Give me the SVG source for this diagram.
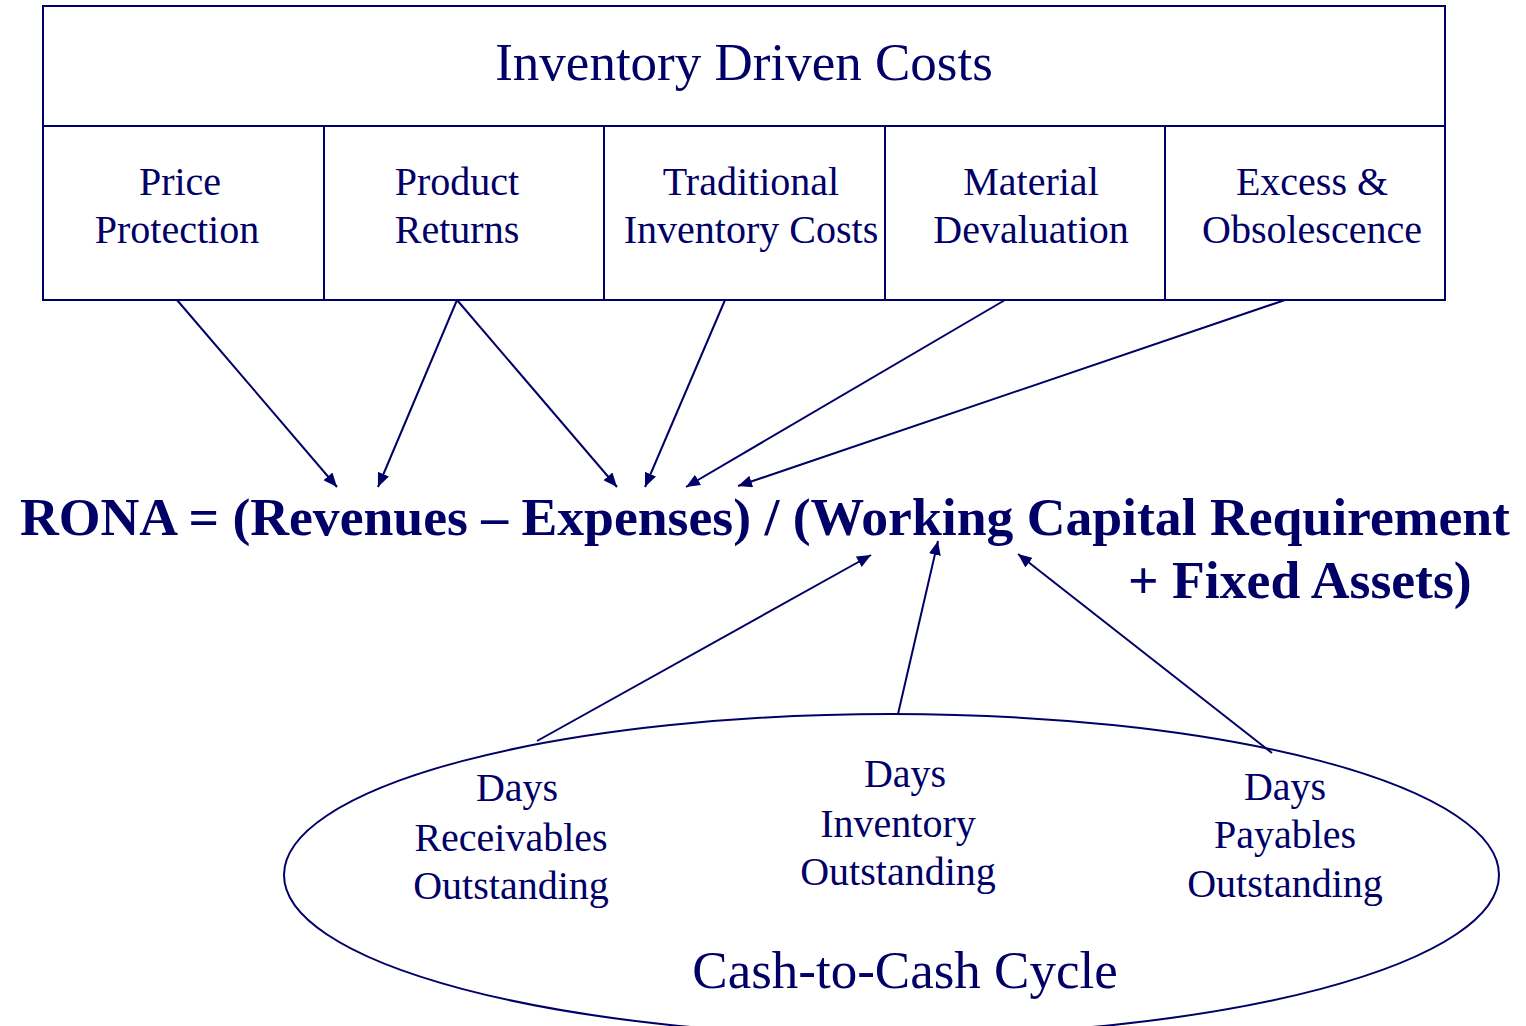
<svg xmlns="http://www.w3.org/2000/svg" width="1526" height="1026" viewBox="0 0 1526 1026">
<style>
.ln{stroke:#000066;stroke-width:2;fill:none}
.t{font-family:"Liberation Serif","Times New Roman",serif;fill:#000066;text-anchor:middle}
.c{font-size:40px}
.big{font-size:53px}
.b{font-family:"Liberation Serif","Times New Roman",serif;fill:#000066;font-weight:bold;font-size:53.7px}
.ar{stroke:#000066;stroke-width:2;fill:none;marker-end:url(#ah)}
</style>
<defs>
<marker id="ah" markerUnits="userSpaceOnUse" markerWidth="16" markerHeight="12" refX="14" refY="6" orient="auto">
<path d="M0,0 L14,6 L0,12 Z" fill="#000066"/>
</marker>
</defs>
<rect width="1526" height="1026" fill="#ffffff"/>
<g id="header">
<rect class="ln" x="43" y="6" width="1402" height="120"/>
<text class="t big" x="744" y="80">Inventory Driven Costs</text>
</g>
<g id="price-protection">
<rect class="ln" x="43" y="126" width="281" height="174"/>
<text class="t c" x="180" y="195">Price</text>
<text class="t c" x="177" y="243">Protection</text>
</g>
<g id="product-returns">
<rect class="ln" x="324" y="126" width="280" height="174"/>
<text class="t c" x="457" y="195">Product</text>
<text class="t c" x="457" y="243">Returns</text>
</g>
<g id="traditional">
<rect class="ln" x="604" y="126" width="281" height="174"/>
<text class="t c" x="751" y="195">Traditional</text>
<text class="t c" x="751" y="243">Inventory Costs</text>
</g>
<g id="material">
<rect class="ln" x="885" y="126" width="280" height="174"/>
<text class="t c" x="1031" y="195">Material</text>
<text class="t c" x="1031" y="243">Devaluation</text>
</g>
<g id="excess">
<rect class="ln" x="1165" y="126" width="280" height="174"/>
<text class="t c" x="1312" y="195">Excess &amp;</text>
<text class="t c" x="1312" y="243">Obsolescence</text>
</g>
<g id="rona">
<text class="b" x="20" y="535" textLength="1490" lengthAdjust="spacing">RONA = (Revenues – Expenses) / (Working Capital Requirement</text>
<text class="b" x="1128" y="598">+ Fixed Assets)</text>
</g>
<g id="cash-cycle">
<ellipse class="ln" cx="891.5" cy="875" rx="607.5" ry="161"/>
<text class="t c" x="517" y="801">Days</text>
<text class="t c" x="511" y="851">Receivables</text>
<text class="t c" x="511" y="899">Outstanding</text>
<text class="t c" x="905" y="787">Days</text>
<text class="t c" x="898" y="837">Inventory</text>
<text class="t c" x="898" y="885">Outstanding</text>
<text class="t c" x="1285" y="800">Days</text>
<text class="t c" x="1285" y="848">Payables</text>
<text class="t c" x="1285" y="897">Outstanding</text>
<text class="t big" x="905" y="988">Cash-to-Cash Cycle</text>
</g>
<g id="connectors">
<line class="ar" x1="177" y1="300" x2="337" y2="487"/>
<line class="ar" x1="457" y1="300" x2="378" y2="487"/>
<line class="ar" x1="457" y1="300" x2="617" y2="487"/>
<line class="ar" x1="725" y1="300" x2="645" y2="487"/>
<line class="ar" x1="1005" y1="300" x2="686" y2="487"/>
<line class="ar" x1="1285" y1="300" x2="738" y2="486"/>
<line class="ar" x1="537" y1="741" x2="871" y2="555"/>
<line class="ar" x1="898" y1="714" x2="938" y2="541"/>
<line class="ar" x1="1272" y1="753" x2="1018" y2="554"/>
</g>
</svg>
